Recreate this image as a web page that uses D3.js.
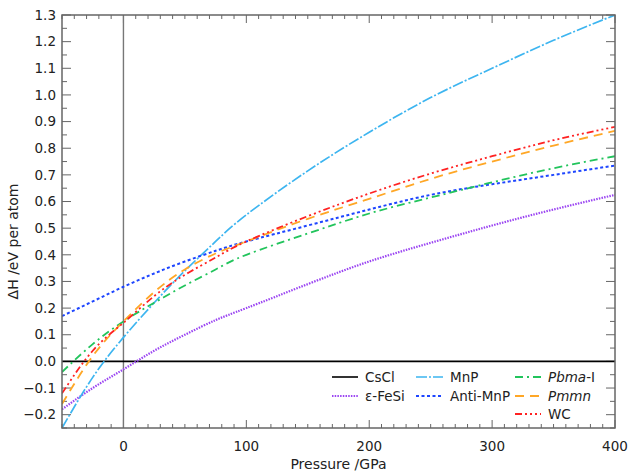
<!DOCTYPE html>
<html>
<head>
<meta charset="utf-8">
<script src="https://cdn.jsdelivr.net/npm/d3@7"></script>
<style>
  body { margin: 0; background: #fff; }
  text { font-family: "DejaVu Sans", sans-serif; fill: #222; }
</style>
</head>
<body>
<div id="chart-area"></div>
<script>
// pressure grid (GPa)
const pressure = [-50, -25, 0, 25, 50, 75, 100, 150, 200, 250, 300, 350, 400];

// enthalpy relative to CsCl (eV per atom)
const cscl    = [0, 0, 0, 0, 0, 0, 0, 0, 0, 0, 0, 0, 0];
const feSi    = [-0.18, -0.10, -0.03, 0.04, 0.10, 0.155, 0.20, 0.29, 0.375, 0.445, 0.51, 0.57, 0.625];
const mnP     = [-0.25, -0.06, 0.09, 0.22, 0.34, 0.45, 0.55, 0.715, 0.86, 0.99, 1.10, 1.205, 1.30];
const antiMnP = [0.17, 0.225, 0.28, 0.33, 0.375, 0.415, 0.45, 0.51, 0.57, 0.625, 0.665, 0.70, 0.735];
const pbma    = [-0.04, 0.065, 0.15, 0.22, 0.285, 0.345, 0.40, 0.48, 0.555, 0.615, 0.672, 0.725, 0.77];
const pmmn    = [-0.16, 0.02, 0.15, 0.26, 0.345, 0.405, 0.45, 0.535, 0.61, 0.685, 0.75, 0.81, 0.865];
const wc      = [-0.12, 0.04, 0.145, 0.245, 0.325, 0.39, 0.45, 0.545, 0.63, 0.705, 0.77, 0.83, 0.88];

const xTicks = [0, 100, 200, 300, 400];
const yTicks = [-0.2, -0.1, 0.0, 0.1, 0.2, 0.3, 0.4, 0.5, 0.6, 0.7, 0.8, 0.9, 1.0, 1.1, 1.2, 1.3];

const series = [
  { name: 'CsCl',     values: cscl,    colour: '#000000', dash: null,              width: 1.6 },
  { name: 'ε-FeSi',   values: feSi,    colour: '#9b45f2', dash: '1.5,1.2',         width: 2.2 },
  { name: 'MnP',      values: mnP,     colour: '#3db5f0', dash: '11,2,2,2',        width: 1.7 },
  { name: 'Anti-MnP', values: antiMnP, colour: '#1e46ff', dash: '3,2.5',           width: 2 },
  { name: 'Pbma',     values: pbma,    colour: '#22c45c', dash: '8,4,2,4',         width: 1.8, italic: true, suffix: '-I' },
  { name: 'Pmmn',     values: pmmn,    colour: '#ffa726', dash: '9,6',             width: 1.8, italic: true },
  { name: 'WC',       values: wc,      colour: '#ff2222', dash: '7,3,2,3,2,3,2,3', width: 1.8 }
];

const margin = { top: 15, bottom: 46, left: 62, right: 14 };
const width = 629 - margin.left - margin.right;
const height = 474 - margin.top - margin.bottom;

const x = d3.scaleLinear().domain([-50, 400]).range([0, width]);
const y = d3.scaleLinear().domain([-0.25, 1.3]).range([height, 0]);

const svg = d3.select('#chart-area').append('svg')
  .attr('width', 629)
  .attr('height', 474);

const g = svg.append('g')
  .attr('transform', `translate(${margin.left}, ${margin.top})`);

const frameColour = '#666';

// minor + major ticks on all four sides (inward)
const xMinor = d3.range(-50, 401, 10);
const yMinor = d3.range(-0.25, 1.3001, 0.05);

g.selectAll('.xtick-b').data(xMinor).enter().append('line')
  .attr('x1', d => x(d)).attr('x2', d => x(d))
  .attr('y1', height).attr('y2', d => height - (d % 100 === 0 ? 8 : 4))
  .attr('stroke', frameColour).attr('stroke-width', 1);
g.selectAll('.xtick-t').data(xMinor).enter().append('line')
  .attr('x1', d => x(d)).attr('x2', d => x(d))
  .attr('y1', 0).attr('y2', d => (d % 100 === 0 ? 8 : 4))
  .attr('stroke', frameColour).attr('stroke-width', 1);

const isMajorY = d => Math.abs(Math.round(d * 10) - d * 10) < 1e-6;
g.selectAll('.ytick-l').data(yMinor).enter().append('line')
  .attr('x1', 0).attr('x2', d => (isMajorY(d) ? 9 : 5))
  .attr('y1', d => y(d)).attr('y2', d => y(d))
  .attr('stroke', frameColour).attr('stroke-width', 1);
g.selectAll('.ytick-r').data(yMinor).enter().append('line')
  .attr('x1', width).attr('x2', d => width - (isMajorY(d) ? 9 : 5))
  .attr('y1', d => y(d)).attr('y2', d => y(d))
  .attr('stroke', frameColour).attr('stroke-width', 1);

// tick labels
g.selectAll('.xlab').data(xTicks).enter().append('text')
  .attr('x', d => x(d))
  .attr('y', height + 23)
  .attr('text-anchor', 'middle')
  .attr('font-size', '13.5px')
  .text(d => d);

g.selectAll('.ylab').data(yTicks).enter().append('text')
  .attr('x', -6)
  .attr('y', d => y(d))
  .attr('dy', '0.35em')
  .attr('text-anchor', 'end')
  .attr('font-size', '13.5px')
  .text(d => d3.format('.1f')(d));

// axis titles
g.append('text')
  .attr('x', width / 2)
  .attr('y', height + 41)
  .attr('text-anchor', 'middle')
  .attr('font-size', '14px')
  .text('Pressure /GPa');

g.append('text')
  .attr('transform', 'rotate(-90)')
  .attr('x', -y(0.45))
  .attr('y', -44)
  .attr('text-anchor', 'middle')
  .attr('font-size', '14px')
  .text('ΔH /eV per atom');

// zero pressure line
g.append('line')
  .attr('x1', x(0)).attr('x2', x(0))
  .attr('y1', 0).attr('y2', height)
  .attr('stroke', '#777').attr('stroke-width', 1.4);

g.append('clipPath').attr('id', 'clip')
  .append('rect').attr('width', width).attr('height', height);

const line = d3.line()
  .x((d, i) => x(pressure[i]))
  .y(d => y(d))
  .curve(d3.curveNatural);

g.append('g').attr('clip-path', 'url(#clip)')
  .selectAll('path').data(series).enter().append('path')
  .attr('d', d => line(d.values))
  .attr('fill', 'none')
  .attr('stroke', d => d.colour)
  .attr('stroke-width', d => d.width)
  .attr('stroke-dasharray', d => d.dash);

// frame
g.append('rect')
  .attr('width', width).attr('height', height)
  .attr('fill', 'none')
  .attr('stroke', frameColour).attr('stroke-width', 1.5);

// legend
const legendPos = [
  [270, 362], [270, 381],
  [354, 362], [354, 381],
  [453, 362], [453, 381], [453, 399]
];
const legendLen = [26, 26, 27, 27, 26, 26, 26];

series.forEach((s, i) => {
  const row = g.append('g')
    .attr('transform', `translate(${legendPos[i][0]}, ${legendPos[i][1]})`);
  row.append('line')
    .attr('x1', 0).attr('x2', legendLen[i])
    .attr('y1', 0).attr('y2', 0)
    .attr('stroke', s.colour)
    .attr('stroke-width', s.width)
    .attr('stroke-dasharray', s.dash);
  const t = row.append('text')
    .attr('x', legendLen[i] + 7)
    .attr('y', 0)
    .attr('dy', '0.35em')
    .attr('font-size', '13.5px');
  t.append('tspan')
    .attr('font-style', s.italic ? 'italic' : 'normal')
    .text(s.name);
  if (s.suffix) t.append('tspan').text(s.suffix);
});
</script>
</body>
</html>
